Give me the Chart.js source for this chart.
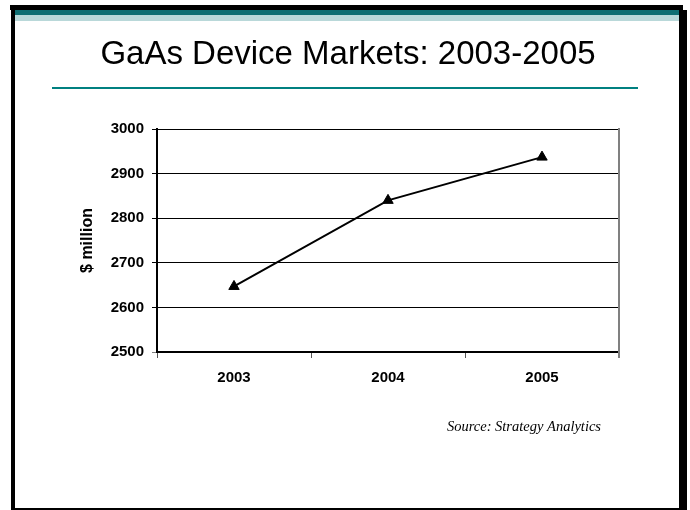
<!DOCTYPE html>
<html>
<head>
<meta charset="utf-8">
<title>GaAs Device Markets: 2003-2005</title>
<script src="https://cdn.jsdelivr.net/npm/chart.js@4.4.0/dist/chart.umd.min.js"></script>
<style>
  html, body { margin: 0; padding: 0; background: #fff; }
  #wrap { position: relative; width: 690px; height: 510px; }
</style>
</head>
<body>
<div id="wrap"><canvas id="marketChart" width="690" height="510"></canvas></div>
<script>
// Chart data
const years = ['2003', '2004', '2005'];
const marketValues = [2647, 2840, 2937];
const yTicks = [2500, 2600, 2700, 2800, 2900, 3000];
const chartTitle = 'GaAs Device Markets: 2003-2005';
const yAxisTitle = '$ million';
const sourceNote = 'Source: Strategy Analytics';

const SANS = "'Liberation Sans', Arial, Helvetica, sans-serif";

// Slide frame, header band, title and rule drawn around the chart
const slidePlugin = {
    id: 'slide',
    beforeDraw(chart) {
        const ctx = chart.ctx;
        ctx.save();
        ctx.fillStyle = '#fff';
        ctx.fillRect(0, 0, chart.width, chart.height);

        // black frame
        ctx.fillStyle = '#000';
        ctx.fillRect(10, 5, 673, 5);
        ctx.fillRect(11, 10, 4, 500);
        ctx.fillRect(679, 10, 8, 500);
        ctx.fillRect(11, 508, 676, 2);

        // teal header band
        ctx.fillStyle = '#0e6e72';
        ctx.fillRect(15, 10, 664, 5);
        ctx.fillStyle = '#b9d8d9';
        ctx.fillRect(15, 15, 664, 6);

        // title
        ctx.fillStyle = '#000';
        ctx.font = '33px ' + SANS;
        ctx.textAlign = 'center';
        ctx.textBaseline = 'alphabetic';
        ctx.fillText(chartTitle, 348, 64);

        // rule under the title
        ctx.fillStyle = '#008080';
        ctx.fillRect(52, 87, 586, 2);
        ctx.restore();
    },
    afterDraw(chart) {
        const { ctx, chartArea } = chart;
        ctx.save();
        // grey right edge of the plot area
        ctx.strokeStyle = '#808080';
        ctx.lineWidth = 2;
        ctx.beginPath();
        ctx.moveTo(chartArea.right, chartArea.top - 1);
        ctx.lineTo(chartArea.right, chartArea.bottom + 6);
        ctx.stroke();

        // source note
        ctx.fillStyle = '#000';
        ctx.font = 'italic 14.5px "Liberation Serif", "Times New Roman", serif';
        ctx.textAlign = 'right';
        ctx.textBaseline = 'alphabetic';
        ctx.fillText(sourceNote, 601, 431);
        ctx.restore();
    }
};

const ctxMarket = document.getElementById('marketChart').getContext('2d');
new Chart(ctxMarket, {
    type: 'line',
    data: {
        labels: years,
        datasets: [{
            label: 'GaAs device market ($ million)',
            data: marketValues,
            borderColor: '#000',
            borderWidth: 2,
            pointStyle: 'triangle',
            pointRadius: 6,
            pointBackgroundColor: '#000',
            pointBorderColor: '#000',
            pointBorderWidth: 1,
            tension: 0,
            fill: false
        }]
    },
    options: {
        responsive: false,
        animation: false,
        layout: { padding: { left: 0, right: 71, top: 129, bottom: 118 } },
        plugins: {
            legend: { display: false },
            tooltip: { enabled: false }
        },
        scales: {
            x: {
                offset: true,
                grid: {
                    offset: true,
                    drawOnChartArea: false,
                    drawTicks: true,
                    tickLength: 6,
                    tickColor: '#555',
                    tickWidth: 1
                },
                border: { color: '#000', width: 2 },
                ticks: {
                    color: '#000',
                    font: { family: SANS, size: 15, weight: 'bold' },
                    padding: 11,
                    maxRotation: 0
                },
                afterFit(scale) { scale.height = 40; }
            },
            y: {
                min: 2500,
                max: 3000,
                afterBuildTicks(scale) {
                    scale.ticks = yTicks.map(v => ({ value: v }));
                },
                grid: {
                    color: '#000',
                    lineWidth: 1,
                    tickLength: 5,
                    tickColor: c => (c.tick && c.tick.value === 2500 ? '#808080' : '#000')
                },
                border: { color: '#000', width: 2 },
                ticks: {
                    color: '#000',
                    font: { family: SANS, size: 15, weight: 'bold' },
                    padding: 8,
                    callback: value => String(value)
                },
                title: {
                    display: true,
                    text: yAxisTitle,
                    color: '#000',
                    font: { family: SANS, size: 16, weight: 'bold' },
                    padding: { top: 78, bottom: 0 }
                },
                afterFit(scale) { scale.width = 157; }
            }
        }
    },
    plugins: [slidePlugin]
});
</script>
</body>
</html>
